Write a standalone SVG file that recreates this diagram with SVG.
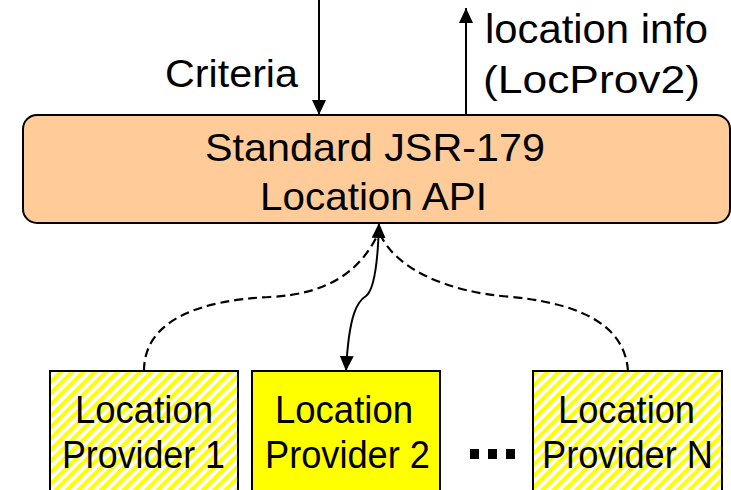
<svg xmlns="http://www.w3.org/2000/svg" width="731" height="490" viewBox="0 0 731 490">
<style>
text{font-family:"Liberation Sans",Arial,sans-serif;fill:#000}
.lbl{font-size:38px}
.box{stroke:#000;stroke-width:2}
.line{fill:none;stroke:#000;stroke-width:2}
.dash{fill:none;stroke:#000;stroke-width:2.2;stroke-dasharray:9 5}
</style>
<defs>
<pattern id="hatch" patternUnits="userSpaceOnUse" width="8" height="8" patternTransform="rotate(45)">
<rect width="8" height="8" fill="#fff"/>
<rect width="4" height="8" fill="#ffff00"/>
</pattern>
<marker id="head" viewBox="0 0 15 14" refX="15" refY="7" markerWidth="15" markerHeight="14" markerUnits="userSpaceOnUse" orient="auto-start-reverse">
<path d="M0 0 L15 7 L0 14 Z" fill="#000"/>
</marker>
</defs>
<g id="connectors">
<line class="line" x1="319" y1="0" x2="319" y2="115" marker-end="url(#head)"/>
<line class="line" x1="466" y1="115" x2="466" y2="8" marker-end="url(#head)"/>
<path class="dash" d="M144 371 C144 320 200 300 270 297 C330 294 360 270 377 236"/>
<path class="dash" d="M628 371 C625 330 590 305 513 297 C440 292 395 265 381 236"/>
<path class="line" d="M379 223 C378 260 374 290 366 296 C358 301 349 312 346 371" marker-start="url(#head)" marker-end="url(#head)"/>
</g>
<g id="api">
<rect class="box" x="23" y="115" width="707" height="108" rx="14" fill="#ffcc99"/>
<text x="205" y="161" font-size="39" textLength="340" lengthAdjust="spacingAndGlyphs">Standard JSR-179</text>
<text x="260" y="210" font-size="39" textLength="227" lengthAdjust="spacingAndGlyphs">Location API</text>
</g>
<g id="criteria-label">
<text x="165" y="87" font-size="38" textLength="133" lengthAdjust="spacingAndGlyphs">Criteria</text>
</g>
<g id="info-label">
<text x="485" y="43" font-size="40" textLength="223" lengthAdjust="spacingAndGlyphs">location info</text>
<text x="483" y="93" font-size="39" textLength="217" lengthAdjust="spacingAndGlyphs">(LocProv2)</text>
</g>
<g id="provider1">
<rect class="box" x="50" y="371" width="188" height="130" fill="url(#hatch)"/>
<text class="lbl" x="75" y="423" textLength="138" lengthAdjust="spacingAndGlyphs">Location</text>
<text class="lbl" x="62" y="468" textLength="163" lengthAdjust="spacingAndGlyphs">Provider 1</text>
</g>
<g id="provider2">
<rect class="box" x="252" y="371" width="188" height="130" fill="#ffff00"/>
<text class="lbl" x="275" y="423" textLength="138" lengthAdjust="spacingAndGlyphs">Location</text>
<text class="lbl" x="265" y="468" textLength="165" lengthAdjust="spacingAndGlyphs">Provider 2</text>
</g>
<g id="ellipsis">
<rect x="470" y="449" width="9" height="10" fill="#000"/>
<rect x="488" y="449" width="9" height="10" fill="#000"/>
<rect x="506" y="449" width="9" height="10" fill="#000"/>
</g>
<g id="providerN">
<rect class="box" x="533" y="371" width="189" height="130" fill="url(#hatch)"/>
<text class="lbl" x="558" y="423" textLength="137" lengthAdjust="spacingAndGlyphs">Location</text>
<text class="lbl" x="542" y="468" textLength="171" lengthAdjust="spacingAndGlyphs">Provider N</text>
</g>
</svg>
